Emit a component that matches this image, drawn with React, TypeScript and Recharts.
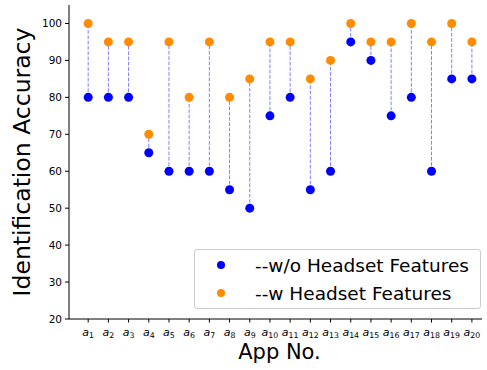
import React from "react";
import {
  ComposedChart,
  Scatter,
  XAxis,
  YAxis,
  ReferenceLine,
  Legend,
} from "recharts";

const apps = [1, 2, 3, 4, 5, 6, 7, 8, 9, 10, 11, 12, 13, 14, 15, 16, 17, 18, 19, 20];
const withoutHeadset = [80, 80, 80, 65, 60, 60, 60, 55, 50, 75, 80, 55, 60, 95, 90, 75, 80, 60, 85, 85];
const withHeadset = [100, 95, 95, 70, 95, 80, 95, 80, 85, 95, 95, 85, 90, 100, 95, 95, 100, 95, 100, 95];
const yTicks = [20, 30, 40, 50, 60, 70, 80, 90, 100];

const BLUE = "#0000ff";
const ORANGE = "#ff8c00";
const FONT = "DejaVu Sans, sans-serif";

const woData = apps.map((x, i) => ({ x, y: withoutHeadset[i] }));
const wData = apps.map((x, i) => ({ x, y: withHeadset[i] }));

const Dot = ({ cx, cy, fill }: any) => <circle cx={cx} cy={cy} r={4.5} fill={fill} />;

// a_i labels with a subscript index
const AppTick = ({ x, y, payload }: any) => (
  <text x={x} y={y + 11} textAnchor="middle" fontFamily={FONT} fontSize={11} fill="#000">
    <tspan fontStyle="italic">a</tspan>
    <tspan fontSize={7.8} dy={2.5}>{payload.value}</tspan>
  </text>
);

const XTitle = ({ viewBox }: any) => (
  <text
    x={viewBox.x + viewBox.width / 2 + 4}
    y={viewBox.y + 40}
    textAnchor="middle"
    fontFamily={FONT}
    fontSize={21}
    fill="#000"
  >
    App No.
  </text>
);

const YTitle = ({ viewBox }: any) => {
  const cx = viewBox.x + 30;
  const cy = viewBox.y + viewBox.height / 2;
  return (
    <text
      x={cx}
      y={cy}
      transform={`rotate(-90 ${cx} ${cy})`}
      textAnchor="middle"
      fontFamily={FONT}
      fontSize={23.5}
      fill="#000"
    >
      Identification Accuracy
    </text>
  );
};

const LegendBox = () => (
  <div
    style={{
      position: "relative",
      border: "1px solid #cccccc",
      borderRadius: 3,
      background: "rgba(255,255,255,0.8)",
      width: 287,
      height: 60,
      boxSizing: "border-box",
      fontFamily: FONT,
      fontSize: 18.5,
      color: "#000",
    }}
  >
    {[
      { label: "--w/o Headset Features", color: BLUE },
      { label: "--w Headset Features", color: ORANGE },
    ].map((item, i) => (
      <div
        key={item.label}
        style={{
          position: "absolute",
          left: 0,
          top: i === 0 ? 3 : 31,
          height: 24,
          display: "flex",
          alignItems: "center",
          whiteSpace: "nowrap",
        }}
      >
        <svg width={60} height={24} style={{ display: "block" }}>
          <circle cx={26} cy={12} r={4} fill={item.color} />
        </svg>
        <span>{item.label}</span>
      </div>
    ))}
  </div>
);

export default function App() {
  return (
    <div style={{ position: "absolute", left: 0, top: 0 }}>
      <ComposedChart
        width={487}
        height={370}
        margin={{ top: 5, right: 5, bottom: 0, left: 0 }}
      >
        <XAxis
          type="number"
          dataKey="x"
          domain={[0.05, 20.5]}
          ticks={apps}
          interval={0}
          height={51}
          tickSize={3.5}
          tickMargin={2}
          tick={<AppTick />}
          axisLine={{ stroke: "#000", strokeWidth: 1 }}
          tickLine={{ stroke: "#000", strokeWidth: 1 }}
          label={<XTitle />}
        />
        <YAxis
          type="number"
          dataKey="y"
          domain={[20, 105]}
          ticks={yTicks}
          width={69}
          tickSize={4}
          tickMargin={3}
          tick={{ fontFamily: FONT, fontSize: 10.5, fill: "#000" }}
          axisLine={{ stroke: "#000", strokeWidth: 1 }}
          tickLine={{ stroke: "#000", strokeWidth: 1 }}
          label={<YTitle />}
        />
        {apps.map((x, i) => (
          <ReferenceLine
            key={x}
            segment={[
              { x, y: withoutHeadset[i] },
              { x, y: withHeadset[i] },
            ]}
            stroke={BLUE}
            strokeOpacity={0.5}
            strokeWidth={1}
            strokeDasharray="3.7 1.6"
          />
        ))}
        <Scatter
          data={woData}
          fill={BLUE}
          shape={<Dot />}
          isAnimationActive={false}
        />
        <Scatter
          data={wData}
          fill={ORANGE}
          shape={<Dot />}
          isAnimationActive={false}
        />
        <Legend
          layout="horizontal"
          verticalAlign="middle"
          content={<LegendBox />}
          wrapperStyle={{ position: "absolute", left: 194, top: 249, width: 287, height: 60 }}
        />
      </ComposedChart>
    </div>
  );
}
